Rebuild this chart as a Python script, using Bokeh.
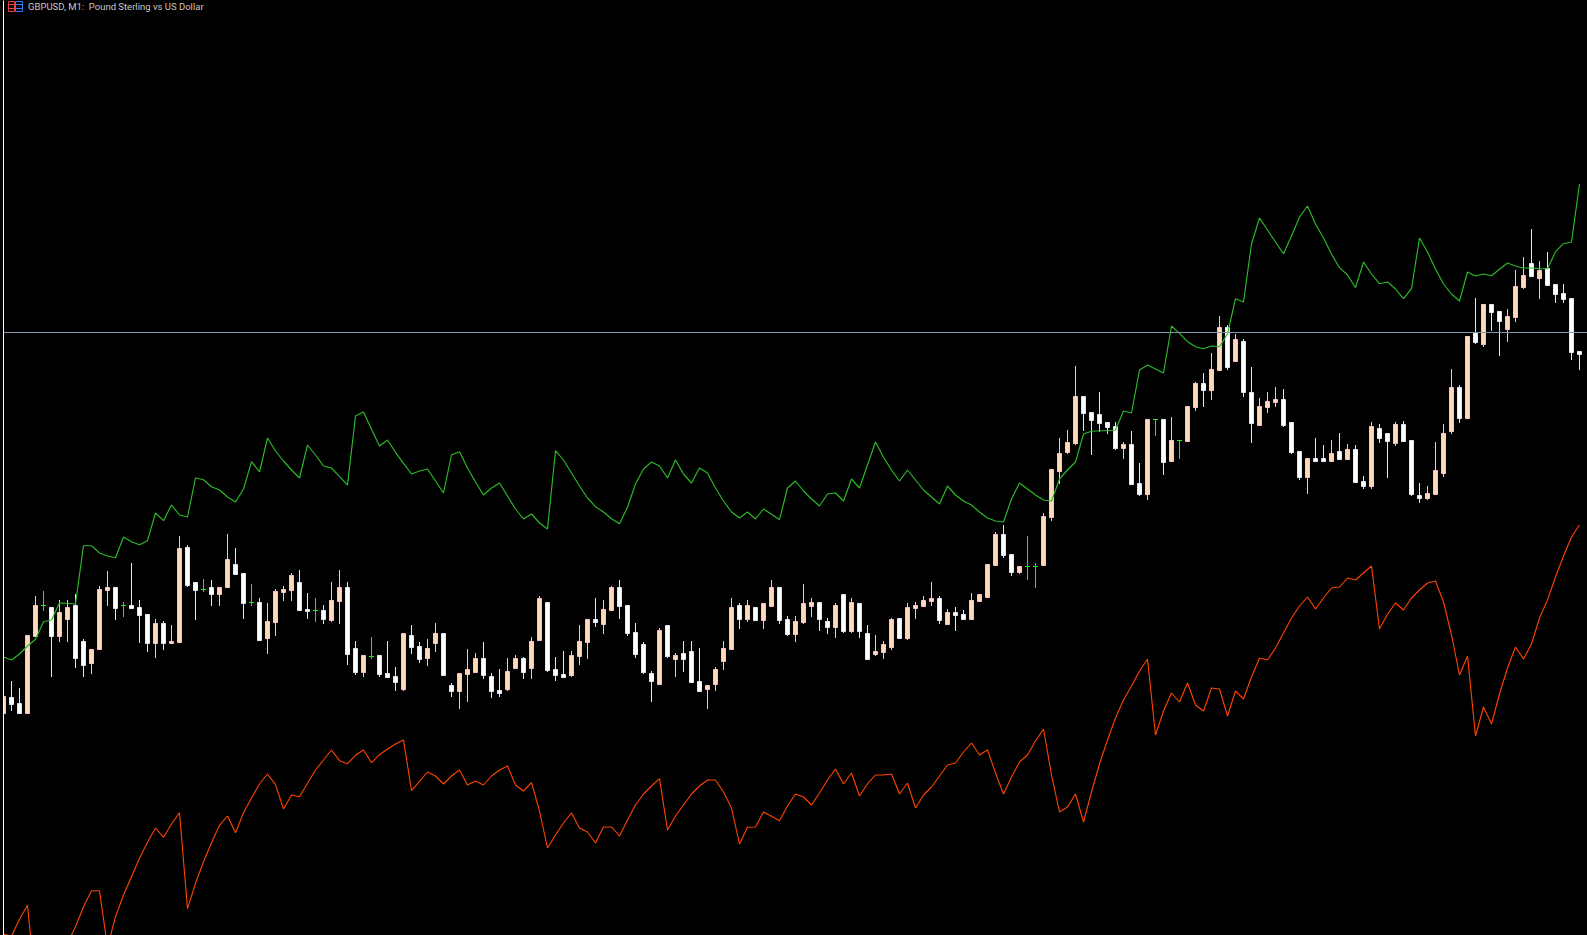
from bokeh.plotting import figure
from bokeh.models import Range1d, Label, ColumnDataSource
from bokeh.embed import file_html
from bokeh.resources import INLINE

TITLE = "GBPUSD, M1:\u00a0 Pound Sterling vs US Dollar"

kinds = ("PWWPPGWPPW" "WPPPWGWWWP" "WPPWWGWPPW" "WGWPPPPWWG" "WPPWWPGWWW"
         "PWWPPWWPPP" "WWWPPWPPWW" "WPPPWPPWWW" "WWPWPWWWPP" "PPWPWPPWWP"
         "PPWWPWPWWP" "PPWPPPPWPW" "WPPPPWWPGG" "PPPPPWWWWW" "PWWPGWPGPP"
         "WPPWPWWPPP" "WWWPWWPWPW" "WPWWPWWWPP" "PPWPWPWWPP" "PWPWWWWW")

body_top = [
    696,697,703,635,605,605,607,612,607,605,
    641,649,589,587,587,605,605,607,614,623,
    623,641,548,547,582,589,587,587,559,564,
    573,602,602,621,591,589,575,582,609,610,
    610,600,587,587,648,655,656,655,673,676,
    633,635,646,648,633,633,685,673,669,658,
    658,676,690,671,658,658,641,598,602,669,
    674,655,641,619,619,609,587,587,605,632,
    644,673,630,625,655,653,651,681,685,669,
    648,607,605,605,607,603,587,587,619,621,
    603,602,602,621,605,594,602,603,633,651,
    644,619,618,607,605,600,598,598,612,612,
    614,600,594,564,534,534,554,566,566,566,
    516,469,453,442,396,396,412,414,422,426,
    444,444,483,419,419,419,440,440,406,383,
    383,369,327,327,339,341,392,406,401,399,
    399,422,451,458,458,458,453,451,449,449,
    481,426,428,433,424,424,440,495,493,470,
    433,387,387,336,332,304,304,311,316,286,
    275,263,270,268,284,293,298,351]

body_bottom = [
    714,705,714,714,637,605,637,637,620,659,
    666,664,650,591,609,605,609,616,644,644,
    644,644,643,586,591,589,595,595,588,575,
    604,602,641,639,623,593,591,611,612,610,
    620,621,602,655,673,673,656,675,678,683,
    690,648,660,659,644,676,692,692,675,673,
    676,692,694,690,669,673,669,641,671,676,
    678,676,657,643,623,625,611,607,634,655,
    673,682,685,657,660,660,683,692,690,685,
    662,650,620,620,621,621,607,621,635,635,
    623,607,620,628,628,632,632,632,660,655,
    653,648,639,639,609,607,602,621,625,616,
    620,620,602,598,566,556,573,573,566,566,
    566,518,472,453,444,414,421,424,428,449,
    449,485,495,495,419,463,462,440,442,408,
    391,391,371,368,362,393,424,426,408,403,
    426,453,478,478,462,462,462,460,460,483,
    487,487,439,442,444,442,495,499,499,495,
    474,432,419,419,343,345,313,322,330,318,
    288,277,279,286,295,300,353,355]

wick_high = [
    696,681,688,635,596,591,607,600,600,594,
    639,649,586,571,587,602,563,600,614,619,
    621,625,536,545,582,579,580,587,534,548,
    573,584,598,603,589,586,573,570,593,598,
    605,582,570,582,641,655,637,655,641,667,
    633,625,642,639,623,633,683,673,649,653,
    642,673,669,658,655,657,637,596,602,657,
    651,651,625,619,598,600,586,580,605,623,
    642,671,628,625,653,641,641,648,685,667,
    641,598,603,600,607,603,580,587,616,616,
    584,598,602,618,603,594,598,603,625,635,
    641,618,618,603,602,596,582,596,609,607,
    610,593,594,564,532,525,554,566,536,563,
    513,469,438,430,366,396,412,392,422,422,
    442,431,463,419,419,419,417,440,406,382,
    373,353,316,325,334,339,367,398,392,387,
    389,422,451,458,438,445,440,433,444,445,
    476,422,424,433,422,421,440,483,486,442,
    424,369,385,336,298,304,304,311,309,270,
    257,229,261,252,284,284,298,351]

wick_low = [
    714,711,714,714,637,611,677,642,642,668,
    677,674,650,606,620,617,609,643,652,658,
    650,644,643,587,620,592,606,606,588,575,
    619,606,641,654,636,601,601,611,619,622,
    624,622,624,665,675,677,659,677,678,691,
    691,654,663,666,652,676,697,709,702,673,
    679,698,697,691,669,679,679,641,672,681,
    678,677,665,659,627,634,611,619,636,658,
    674,702,685,658,677,672,683,692,709,691,
    670,650,629,622,621,629,607,624,636,642,
    624,617,631,634,638,633,633,638,660,656,
    659,650,639,640,619,607,606,624,625,631,
    620,620,602,598,566,558,576,574,580,588,
    566,521,484,454,445,431,455,432,434,450,
    459,485,496,500,436,475,462,459,442,411,
    407,400,371,370,362,397,443,426,413,407,
    427,454,480,494,462,462,462,460,460,483,
    489,489,443,478,446,442,496,503,500,495,
    477,434,423,419,344,347,331,356,342,322,
    289,277,299,286,303,303,360,370]

green_line = [
    657,660,654,646,639.3,621.7,620,603,603.3,604,
    545.7,545.7,553,556,557.7,537,541.7,544.7,540.7,513,
    520.7,505,515,517,478,479.7,486.7,490,497,502,
    489,461.7,472,438,451,461,470,478,445,455,
    466,468,476.7,485,416,412,429.3,446,440,452.3,
    463.3,474,471,469,481,493,455,451.7,468,482,
    495,488,483,496,509,519,514,523,529,450.7,
    460,473,486,498,506.7,512,518.7,523.7,507.3,484,
    469,462,466,478,460,474,483,468,473,488,
    501,512,518,512,519,509,514.3,519.7,488,481,
    491,499,506,494,493,501,479,488,465,442,
    457.3,470,481,470,480,490,497,504,486,495,
    501,505,512,518,521,522,499,483,489,495,
    500,501,479,470,462,434,431.3,430.7,430.7,430,
    411,413,370,365,369,373,326,333.3,341.7,346.7,
    348.7,346,346.7,334,298.7,302,244,218,230,242,
    253.7,236,217,206,224,238,254,267.7,275,287.7,
    262,274,283.7,282,289,298.7,288.7,238,252,269,
    284,294,301,272,276,274,275.7,269.3,263,266,
    268,268,268.7,268.7,251.7,243.7,242,184]

red_line = [
    934.3,936,919.3,905.3,985,990,985,965,943,926.7,
    906.7,890.7,890.7,947,916.7,895,876.7,858.3,842.3,828,
    837.3,824,812.7,908.7,883.3,861.7,842.7,825.3,816,832.7,
    812.7,798,784,774,784.7,809,795,796.7,783.3,770,
    760,750,760.7,763.7,755.3,750,762.7,754.7,749,744,
    740,790.7,781.3,772,776,784,776,770,785,781,
    785,776,770,766,785,791,782.7,811,848,835,
    823,813,828,832,843,827,827,836,820,805,
    794,786,778.7,830,816,805,794,786,780,780,
    792,808,844,827.3,827,812,816.3,820.7,806,794,
    797,805,793,780,769,784,773,796,783.7,775,
    775,774,794,783,808,795,787,776,765,763,
    752,743,755,750,773,794,777,762,755,741,
    729,775,812,807,794,822,792,764,740,718,
    700,686,671,659,735,711,693,702,683,705,
    711,688,689,716,691,699,677,658,660,648,
    633,618,606,597,609,598,588,587,578,580,
    573,566,629,614.3,603,610,598,590,583,581,
    602,635,675,656,736,707,724,694,668,647,
    659,644,618,600,577,556,537,525]

crosshair_bar = 0
crosshair_level = 332.5

BG = "#000000"
FILL = {"P": "#FFDAB9", "W": "#FFFFFF", "G": "#00FF00"}
EDGE = {"P": "#FFC0CB", "W": "#E6E6FA", "G": "#00FF00"}
WIDTH, HEIGHT = 1587, 935
ORIGIN = 3
BAR_PX = 8


def bar_of(px):
    return (px - 0.5 - ORIGIN) / BAR_PX


p = figure(width=WIDTH, height=HEIGHT, output_backend="svg", toolbar_location=None,
           x_range=Range1d(bar_of(0.5), bar_of(WIDTH + 0.5)), y_range=Range1d(HEIGHT + 0.5, 0.5),
           min_border_left=0, min_border_right=0, min_border_top=0, min_border_bottom=0,
           background_fill_color=BG, border_fill_color=BG, outline_line_color=None)
p.axis.visible = False
p.grid.visible = False

n = len(kinds)
xs = list(range(n))
wicks = ColumnDataSource(dict(
    x=xs, y0=wick_high, y1=wick_low,
    color=[EDGE[k] for k in kinds]))
p.segment("x", "y0", "x", "y1", source=wicks, line_color="color", line_width=1)

real = [i for i in xs if kinds[i] != "G"]
half = 2 / BAR_PX
bodies = ColumnDataSource(dict(
    left=[i - half for i in real], right=[i + half for i in real],
    top=[body_top[i] + 0.5 for i in real], bottom=[body_bottom[i] - 0.5 for i in real],
    fill=[FILL[kinds[i]] for i in real], edge=[EDGE[kinds[i]] for i in real]))
p.quad("left", "right", "top", "bottom", source=bodies, fill_color="fill",
       line_color="edge", line_width=1)

doji = [i for i in xs if kinds[i] == "G"]
half_tick = 2.5 / BAR_PX
p.segment([i - half_tick for i in doji], [body_top[i] + 0.5 for i in doji],
          [i + half_tick for i in doji], [body_top[i] + 0.5 for i in doji],
          line_color=FILL["G"], line_width=1)

# the strip left of the first bar stays black
p.quad(left=[bar_of(0)], right=[crosshair_bar], top=[0], bottom=[HEIGHT + 1], fill_color=BG, line_color=None)

p.line(xs, green_line, line_color="#2BBB2B", line_width=1.15)
p.line(xs, red_line, line_color="#FF4500", line_width=1.1)

p.segment([crosshair_bar], [crosshair_level], [bar_of(WIDTH + 5)], [crosshair_level],
          line_color="#8296A8", line_width=1)
p.segment([crosshair_bar], [0], [crosshair_bar], [HEIGHT + 1], line_color="#FFFFFF", line_width=1)

# chart-window icon next to the title
for x0, x1, col in ((8.5, 14.5, "#E8403A"), (15.5, 22.5, "#2F7FE8")):
    p.quad(left=[bar_of(x0)], right=[bar_of(x1)], top=[1.5], bottom=[11.5],
           fill_color=None, line_color=col, line_width=1)
    p.segment([bar_of(x0)] * 2, [4.5, 8.5], [bar_of(x1)] * 2, [4.5, 8.5], line_color=col, line_width=1)

p.add_layout(Label(x=bar_of(28), y=6.5, text=TITLE, text_color="#C8C8C8",
                   text_font="Roboto", text_font_size="9.5px", text_baseline="middle"))

html = file_html(p, INLINE)
html = html.replace("<head>", "<head><style>html,body{margin:0;padding:0;background:#000;overflow:hidden}</style>", 1)
open("out.html", "w").write(html)
